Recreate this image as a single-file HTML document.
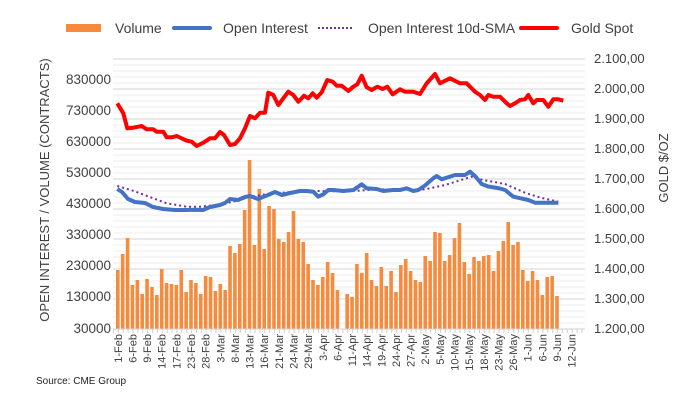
<!DOCTYPE html>
<html><head><meta charset="utf-8"><style>
html,body{margin:0;padding:0;background:#fff;}
svg{display:block;font-family:"Liberation Sans",sans-serif;}
</style></head><body>
<svg width="699" height="411" xmlns="http://www.w3.org/2000/svg">
<g id="grid"></g>
<g id="bars" fill="#F68B3D"></g>
<polyline id="sma" fill="none" stroke="#7030A0" stroke-width="2" stroke-dasharray="2,3"/>
<polyline id="oi" fill="none" stroke="#4472C4" stroke-width="4" stroke-linejoin="round"/>
<polyline id="gold" fill="none" stroke="#FF0000" stroke-width="4" stroke-linejoin="round"/>
<line x1="113" y1="329" x2="585" y2="329" stroke="#d0d0d0" stroke-width="1"/>
<g id="ticks" stroke="#d0d0d0"></g>
<g font-size="13.5" fill="#404040" text-anchor="end">
<text x="111" y="84">830000</text><text x="111" y="115">730000</text><text x="111" y="146">630000</text>
<text x="111" y="177">530000</text><text x="111" y="208">430000</text><text x="111" y="239">330000</text>
<text x="111" y="270">230000</text><text x="111" y="301">130000</text><text x="111" y="333">30000</text>
</g>
<g font-size="13" fill="#404040">
<text x="594" y="63">2.100,00</text><text x="594" y="93">2.000,00</text><text x="594" y="123">1.900,00</text>
<text x="594" y="153">1.800,00</text><text x="594" y="183">1.700,00</text><text x="594" y="213">1.600,00</text>
<text x="594" y="243">1.500,00</text><text x="594" y="273">1.400,00</text><text x="594" y="303">1.300,00</text>
<text x="594" y="333">1.200,00</text>
</g>
<text transform="translate(49,190) rotate(-90)" font-size="13" fill="#404040" text-anchor="middle">OPEN INTEREST / VOLUME (CONTRACTS)</text>
<text transform="translate(668,168) rotate(-90)" font-size="13" fill="#404040" text-anchor="middle">GOLD $/OZ</text>
<g id="dates" font-size="11" fill="#404040" text-anchor="end"></g>
<g font-size="14" fill="#404040">
<rect x="66" y="24" width="35" height="8" fill="#F68B3D"/>
<text x="115" y="33">Volume</text>
<line x1="174" y1="28" x2="210" y2="28" stroke="#4472C4" stroke-width="4" stroke-linecap="round"/>
<text x="223" y="33">Open Interest</text>
<line x1="318" y1="28" x2="354" y2="28" stroke="#7030A0" stroke-width="2" stroke-dasharray="2,2"/>
<text x="368" y="33">Open Interest 10d-SMA</text>
<line x1="521" y1="28" x2="557" y2="28" stroke="#FF0000" stroke-width="4" stroke-linecap="round"/>
<text x="571" y="33">Gold Spot</text>
</g>
<text x="36" y="384" font-size="10" fill="#222">Source: CME Group</text>
<script>
var NS="http://www.w3.org/2000/svg";
function el(t,a,p){var e=document.createElementNS(NS,t);for(var k in a)e.setAttribute(k,a[k]);p.appendChild(e);return e;}
var g=document.getElementById("grid");
for(var i=0;i<=45;i++){var y=59+i*6;el("line",{x1:113,x2:585,y1:y,y2:y,stroke:(i%5==0)?"#d6d6d6":"#eeeeee","stroke-width":1},g);}
var b5=[360,312,264,405,390,432,387,411,435,357,399,402,405,360,426,390,399,432,378,381,423,402,420,288,309,282,180,30,285,117,297,168,177,267,276,246,183,267,276,342,390,405,381,336,369,420];
var b6=[432,441,342,369,309,390,408,351,408,363,426,345,327,363,390,396,318,333,246,249,333,315,264,219,336,372,321,333,318,315,363,303,273,216,285,276,360,393,363,390,435,381,378,438];
var bars=document.getElementById("bars");
function bx(i){return 116+i*4.88;}
b5.forEach(function(z,i){var y=150+z/3;el("rect",{x:bx(i),y:y,width:3.6,height:329-y},bars);});
b6.forEach(function(z,j){var i=47+j;var y=150+z/3;el("rect",{x:bx(i),y:y,width:3.6,height:329-y},bars);});
var gold=[[117.3,103.3],[123.3,113.3],[127.3,128.3],[133.3,127.7],[141.7,126],[146.7,129.3],[153.3,129.3],[156.7,131.7],[163.3,131.7],[166.7,137.3],[171.7,137.3],[176.7,136],[186.7,140.7],[191.7,141.7],[196.7,146],[203.3,142.7],[210,138.3],[215,138.3],[220,132],[224,135],[230,145],[235,144],[240,138.3],[245,128.3],[250,116],[255,118.3],[260,112.7],[265,112.7],[268.3,92.7],[273.3,95],[278.3,105],[283.3,98.3],[288.3,91.7],[293.3,95],[298.3,101.7],[304,95.7],[308.3,98.3],[312.7,93.3],[316.7,97.7],[321.7,92.3],[327.3,80],[332.7,81.7],[336.7,85.7],[341.7,85.7],[348.3,91],[353.3,86.7],[357.3,84.3],[361.7,75.7],[366.7,87.3],[371.7,90],[377.3,86.7],[382.7,89],[387.3,86.7],[392.7,94.3],[400,89.3],[405,91.7],[413.3,91.7],[420,94],[426.7,83.3],[435,74],[440,83.3],[450,78.3],[460,83.3],[466.7,83.3],[470,86.7],[475,91.7],[480,95],[485,100],[488.3,95],[493.3,96.7],[500,96.7],[506.7,103.3],[510,106],[515,103.3],[520,100],[525,99.3],[528.3,95],[533.3,103.3],[536.7,100],[543.3,100],[548.3,106.7],[553.3,99.3],[558.3,99.3],[563.3,100.7]];
var oi=[[117.3,189],[122,192],[128,199],[135,202],[145,203],[153,207],[163,209],[175,210],[185,210],[195,209.7],[203,210],[210,207],[220,205],[225,203],[230,199],[238,200],[245,197],[250,196],[258,199],[268,195],[275,192],[282,195],[290,193],[300,191],[306.7,191],[313.3,191.7],[318.3,196.7],[323.3,194.3],[328.3,190],[333.3,190],[343.3,191],[353.3,190],[361.7,184.3],[366.7,188.3],[376.7,189],[383.3,191],[393.3,190],[400,190],[406.7,188.3],[413.3,191],[418.3,190],[425,185.5],[433.3,178.3],[436.7,176],[441.7,179.3],[455,175],[465,175],[470,171.7],[475,176],[481.7,184],[488.3,186.5],[500,188.5],[505,190],[513.3,196.7],[528.3,200],[535,202.7],[558.3,202.7]];
var sma=[[117.3,186],[133,190.7],[166.7,203.3],[186.7,206.7],[200,206.7],[216.7,205],[233,201.7],[250,197],[266.7,194],[283,192.7],[300,191.7],[316.7,191],[346.7,191.5],[378,189.3],[400,189.5],[418,190],[426.7,189],[445,185],[471.7,176.7],[483.3,180],[505,184],[525,192.7],[540,197.5],[558.3,201.7]];
function pts(a){return a.map(function(p){return p[0]+","+p[1];}).join(" ");}
document.getElementById("gold").setAttribute("points",pts(gold));
document.getElementById("oi").setAttribute("points",pts(oi));
document.getElementById("sma").setAttribute("points",pts(sma));
var labs=["1-Feb","6-Feb","9-Feb","14-Feb","17-Feb","23-Feb","28-Feb","3-Mar","8-Mar","13-Mar","16-Mar","21-Mar","24-Mar","29-Mar","3-Apr","6-Apr","11-Apr","14-Apr","19-Apr","24-Apr","27-Apr","2-May","5-May","10-May","15-May","18-May","23-May","26-May","1-Jun","6-Jun","9-Jun","12-Jun"];
var d=document.getElementById("dates"),tk=document.getElementById("ticks");
labs.forEach(function(s,k){var x=bx(k*3)+1.8;var t=el("text",{transform:"translate("+(x+4)+",334) rotate(-90)"},d);t.textContent=s;});
for(var i=0;i<=96;i++){var x=113.5+i*4.88;el("line",{x1:x,x2:x,y1:329,y2:333},tk);}
</script>
</svg>
</body></html>
